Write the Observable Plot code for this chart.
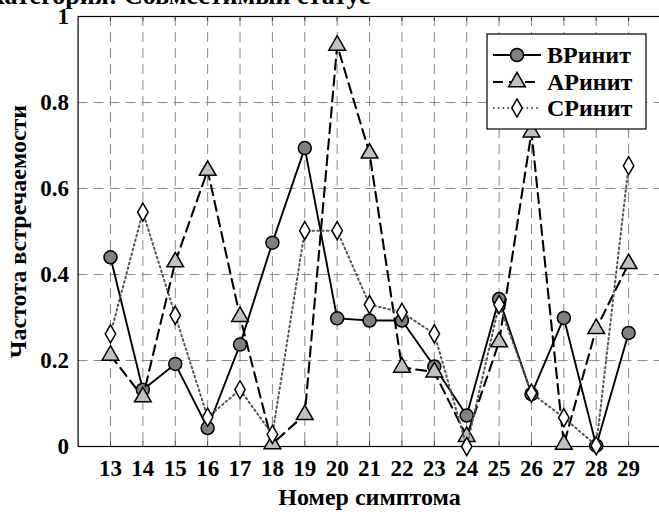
<!DOCTYPE html>
<html><head><meta charset="utf-8">
<script src="https://cdn.jsdelivr.net/npm/d3@7"></script>
<script src="https://cdn.jsdelivr.net/npm/@observablehq/plot@0.6"></script>
<style>
body{margin:0;background:#fff;}
#wrap{position:relative;width:659px;height:516px;overflow:hidden;}
#title{position:absolute;left:-14px;top:-19px;font:bold 26px "Liberation Serif";white-space:nowrap;z-index:2;}
</style></head><body>
<div id="wrap"><div id="title">Категория: Совместимый статус</div></div>
<script>
const symptoms = [13,14,15,16,17,18,19,20,21,22,23,24,25,26,27,28,29];
const bpValues = [0.44,0.132,0.192,0.043,0.237,0.474,0.694,0.298,0.293,0.293,0.186,0.072,0.343,0.122,0.299,0.002,0.264];
const apValues = [0.212,0.115,0.429,0.642,0.302,0.006,0.074,0.933,0.682,0.184,0.173,0.023,0.243,0.731,0.005,0.274,0.425];
const cpValues = [0.262,0.545,0.305,0.068,0.132,0.028,0.502,0.502,0.33,0.312,0.262,0.0,0.33,0.124,0.067,0.002,0.653];
const seriesNames = ["ВРинит","АРинит","СРинит"];
const yTicks = [0,0.2,0.4,0.6,0.8,1];
const yTickLabels = ["0","0.2","0.4","0.6","0.8","1"];
const xLabel = "Номер симптома";
const yLabel = "Частота встречаемости";

const FONT = "Liberation Serif, Times New Roman, serif";
const toRows = (vals) => symptoms.map((s,i)=>({x:s,y:vals[i]}));
const bp = toRows(bpValues), ap = toRows(apValues), cp = toRows(cpValues);

const styles = [
  {line:{stroke:"black",strokeWidth:1.9}, dot:{symbol:"circle",r:6.5,fill:"#808080"}},
  {line:{stroke:"black",strokeWidth:2.1,strokeDasharray:"10,6"}, dot:{symbol:"triangle",r:6.2,fill:"#c0c0c0"}},
  {line:{stroke:"#555",strokeWidth:2,strokeDasharray:"1.6,3.2"}, dot:{symbol:"diamond",r:5.5,fill:"white"}}
];
const rowsets = [bp, ap, cp];

const tickLenX = 5/430;

const chart = Plot.plot({
  width: 659, height: 516,
  marginLeft: 77.6, marginRight: -1.5, marginTop: 16, marginBottom: 70,
  x: {domain:[12,30], axis:null},
  y: {domain:[0,1], axis:null},
  style: {fontFamily: FONT, background:"white"},
  marks: [
    Plot.gridX(symptoms, {stroke:"#8a8a8a", strokeOpacity:1, strokeWidth:1, strokeDasharray:"10,6"}),
    Plot.gridY(yTicks.filter(d=>d>0 && d<1), {stroke:"#8a8a8a", strokeOpacity:1, strokeWidth:1, strokeDasharray:"10,6"}),
    Plot.ruleX(symptoms, {x:d=>d, y1:0, y2:tickLenX, stroke:"#444"}),
    Plot.ruleX(symptoms, {x:d=>d, y1:1-tickLenX, y2:1, stroke:"#444"}),
    Plot.frame({stroke:"black", strokeWidth:1.2}),
    Plot.axisX(symptoms, {tickSize:0, tickPadding:13, fontSize:23, fontWeight:"bold", fontFamily:FONT, label:null, tickFormat:d=>String(d)}),
    Plot.axisY(yTicks, {tickSize:0, tickPadding:9, fontSize:23, fontWeight:"bold", fontFamily:FONT, label:null, tickFormat:d=>yTickLabels[yTicks.indexOf(d)]}),
    Plot.text([xLabel], {frameAnchor:"bottom", lineAnchor:"middle", textAnchor:"middle", dy:51, text:d=>d, fontSize:24, fontWeight:"bold", fontFamily:FONT, fill:"black"}),
    Plot.text([yLabel], {frameAnchor:"left", lineAnchor:"middle", textAnchor:"middle", dx:-60, rotate:-90, text:d=>d, fontSize:24, fontWeight:"bold", fontFamily:FONT, fill:"black"}),
    ...rowsets.flatMap((rows,k)=>[
      Plot.line(rows, {x:"x", y:"y", ...styles[k].line}),
      Plot.dot(rows, {x:"x", y:"y", stroke:"black", strokeWidth:1.5, ...styles[k].dot})
    ])
  ]
});

// legend
const svg = d3.select(chart);
const lg = svg.append("g").attr("font-family", FONT);
const bx = 487, by = 34, bw = 159, bh = 95;
lg.append("rect").attr("x",bx).attr("y",by).attr("width",bw).attr("height",bh).attr("fill","white").attr("stroke","black").attr("stroke-width",1.2);
const rowsY = [55, 82, 108];
const symMap = {circle:d3.symbolCircle, triangle:d3.symbolTriangle, diamond:d3.symbolDiamond};
seriesNames.forEach((name,k)=>{
  const yy = rowsY[k];
  const ls = styles[k].line, ds = styles[k].dot;
  lg.append("line").attr("x1",bx+6).attr("x2",bx+54).attr("y1",yy).attr("y2",yy)
    .attr("stroke",ls.stroke).attr("stroke-width",ls.strokeWidth).attr("stroke-dasharray",ls.strokeDasharray||null);
  lg.append("path").attr("transform",`translate(${bx+30},${yy})`)
    .attr("d", d3.symbol(symMap[ds.symbol], Math.PI*ds.r*ds.r)())
    .attr("fill",ds.fill).attr("stroke","black").attr("stroke-width",1.5);
  lg.append("text").attr("x",bx+60).attr("y",yy).attr("dy","0.34em").attr("text-anchor","start")
    .attr("font-size",24).attr("font-weight","bold").text(name);
});

document.getElementById("wrap").appendChild(chart);
chart.style.position="absolute"; chart.style.left="0"; chart.style.top="0";
</script>
</body></html>
